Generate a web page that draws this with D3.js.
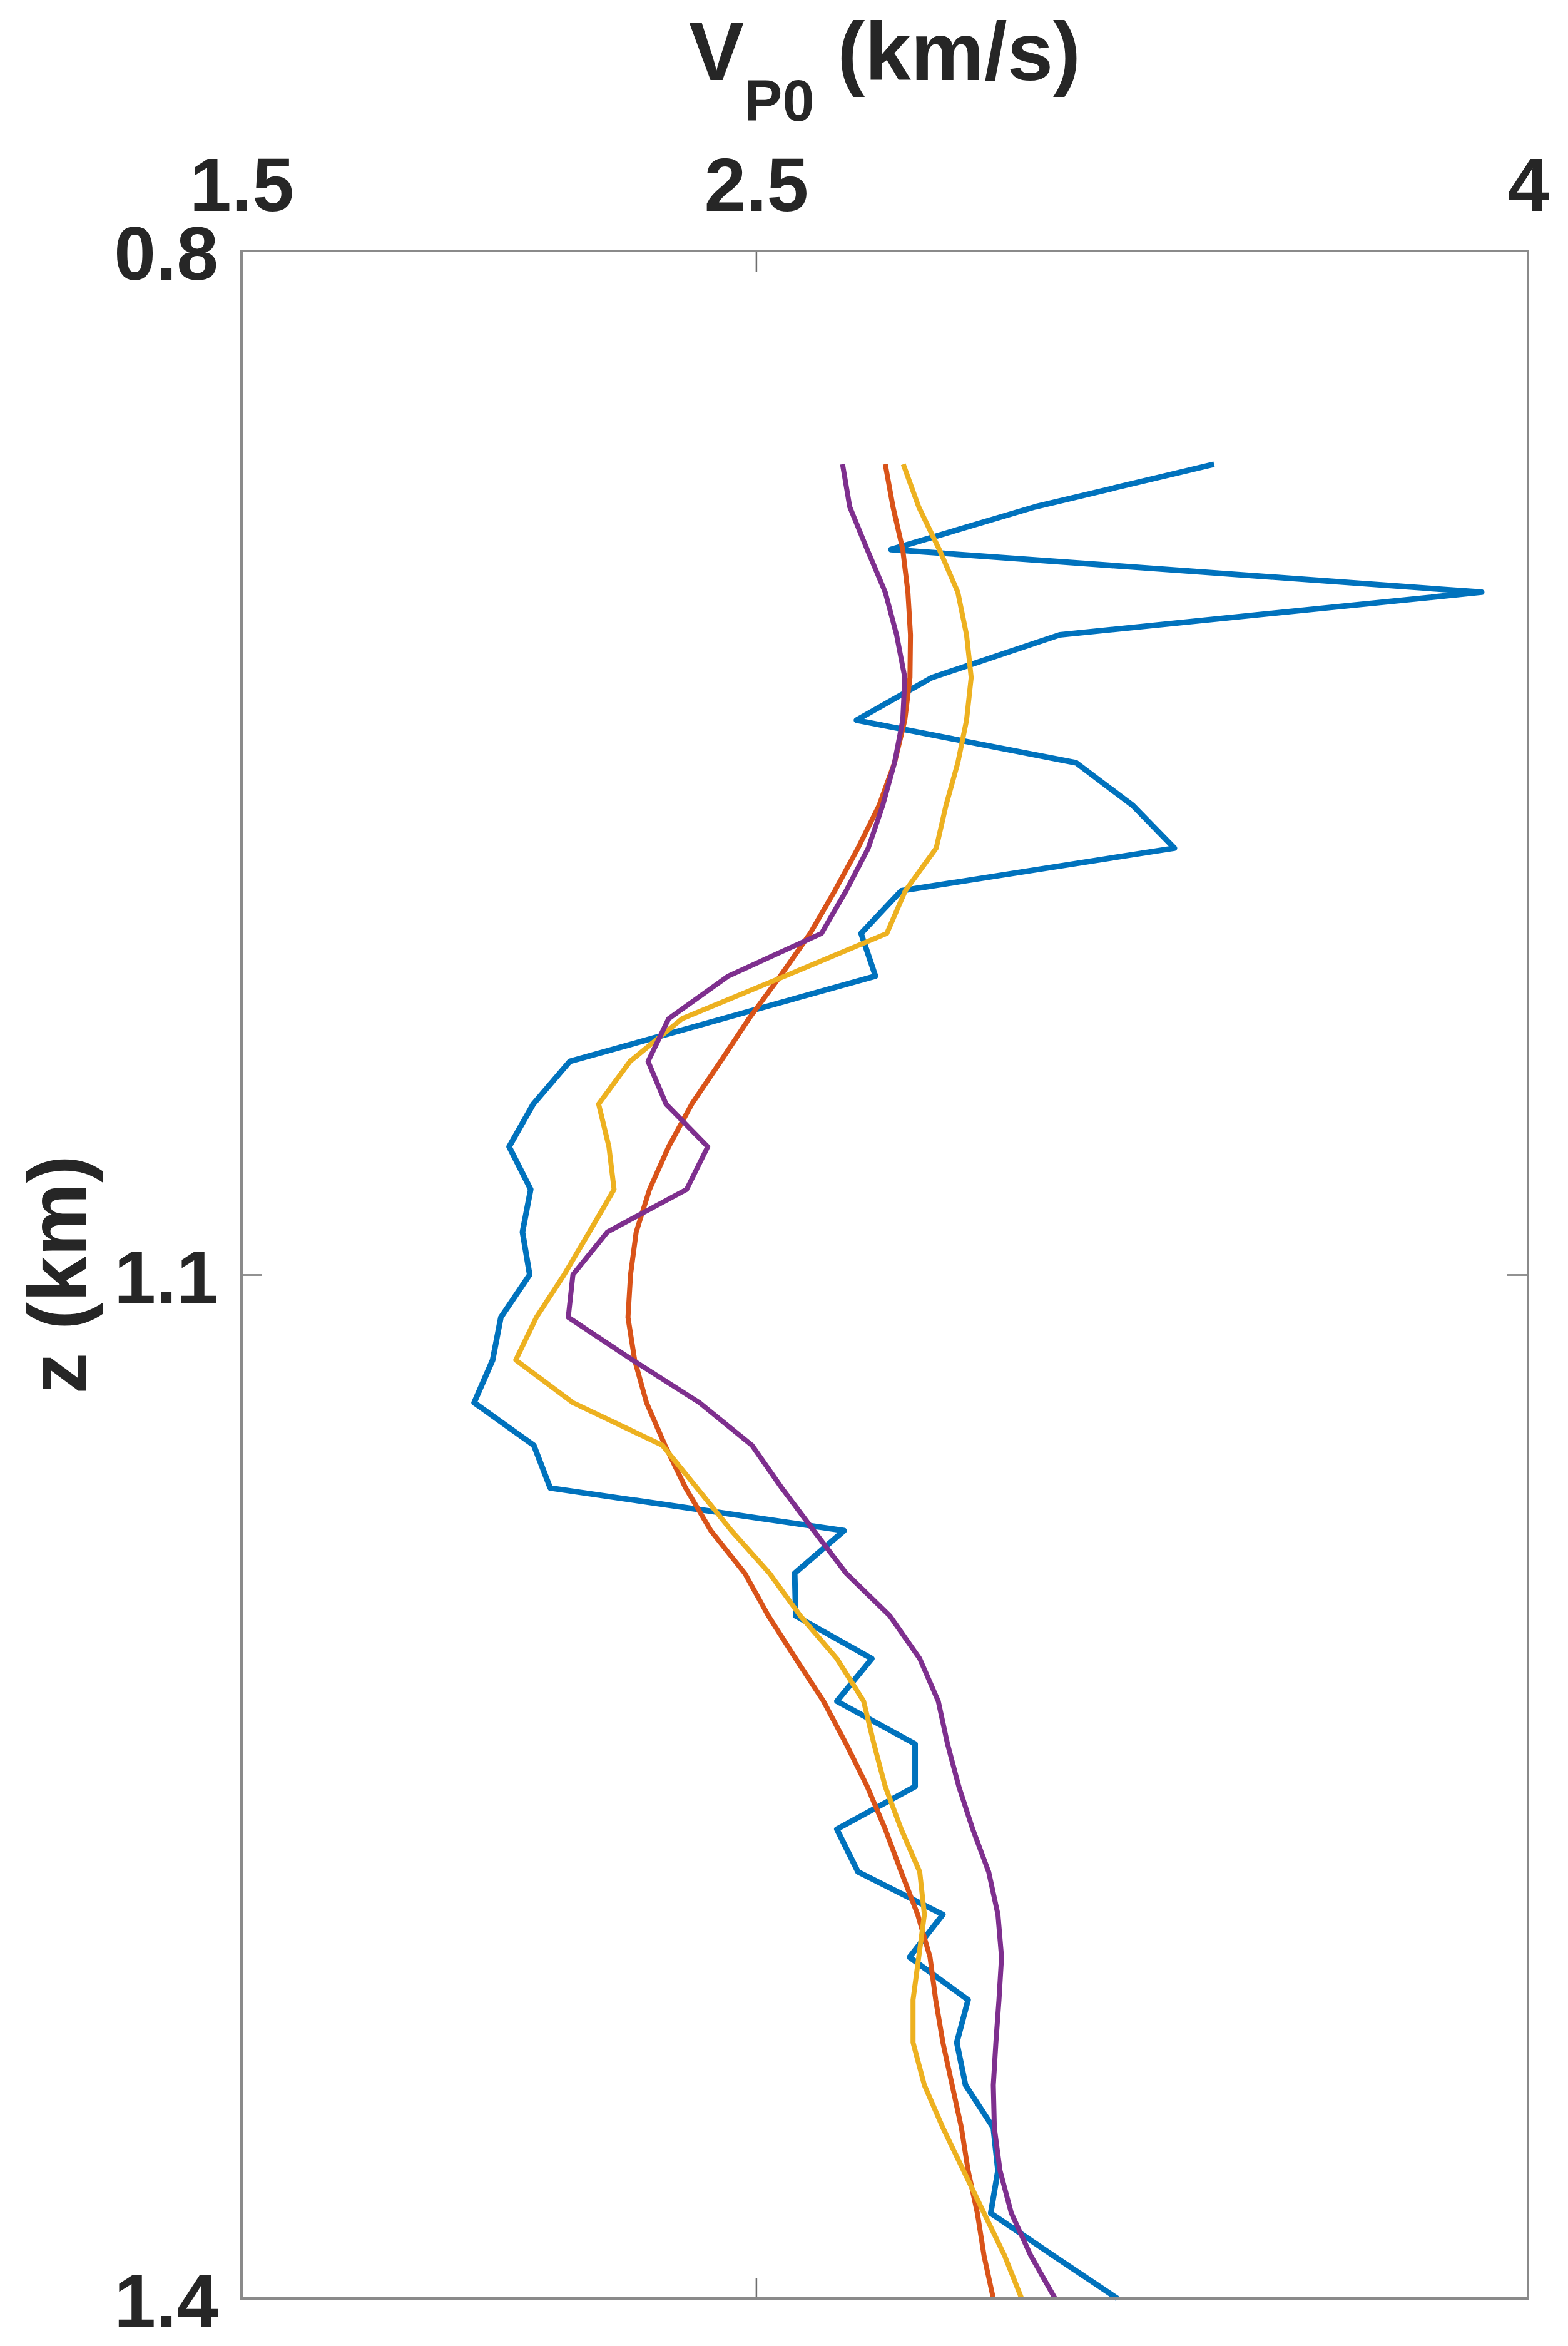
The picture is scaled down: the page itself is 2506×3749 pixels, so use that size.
<!DOCTYPE html>
<html>
<head>
<meta charset="utf-8">
<script src="https://cdn.jsdelivr.net/npm/d3@7"></script>
<style>
  html, body { margin: 0; padding: 0; background: #fff; }
  svg { display: block; }
  text { font-family: "Liberation Sans", Arial, Helvetica, sans-serif; font-weight: bold; fill: #262626; }
</style>
</head>
<body>
<svg id="chart" width="2506" height="3749"></svg>
<script>
// Depth samples (km)
const depth = [0.8625,0.875,0.8875,0.9,0.9125,0.925,0.9375,0.95,0.9625,0.975,0.9875,1.0,1.0125,1.025,1.0375,1.05,1.0625,1.075,1.0875,1.1,1.1125,1.125,1.1375,1.15,1.1625,1.175,1.1875,1.2,1.2125,1.225,1.2375,1.25,1.2625,1.275,1.2875,1.3,1.3125,1.325,1.3375,1.35,1.3625,1.375,1.3875,1.4];

// VP0 profiles (km/s)
const vpBlue = [3.390,3.042,2.762,3.910,3.090,2.842,2.695,3.122,3.232,3.313,2.782,2.704,2.732,2.435,2.138,2.067,2.020,2.062,2.046,2.060,2.004,1.988,1.952,2.068,2.100,2.671,2.575,2.577,2.725,2.657,2.809,2.809,2.657,2.698,2.863,2.798,2.912,2.890,2.907,2.961,2.970,2.956,3.078,3.202];
const vpOrange = [2.751,2.766,2.785,2.795,2.800,2.799,2.789,2.769,2.739,2.698,2.653,2.605,2.547,2.486,2.431,2.375,2.330,2.293,2.267,2.256,2.251,2.264,2.287,2.323,2.363,2.412,2.478,2.524,2.577,2.631,2.675,2.716,2.751,2.782,2.814,2.838,2.849,2.863,2.881,2.899,2.912,2.930,2.943,2.961];
const vpYellow = [2.786,2.816,2.856,2.892,2.909,2.918,2.909,2.892,2.869,2.850,2.790,2.754,2.556,2.356,2.255,2.194,2.214,2.224,2.176,2.127,2.073,2.033,2.144,2.318,2.385,2.452,2.526,2.586,2.657,2.709,2.729,2.751,2.782,2.818,2.827,2.816,2.805,2.805,2.827,2.863,2.903,2.943,2.983,3.016];
const vpPurple = [2.668,2.682,2.716,2.751,2.773,2.789,2.785,2.769,2.746,2.718,2.675,2.627,2.446,2.330,2.290,2.325,2.406,2.365,2.211,2.144,2.135,2.260,2.390,2.492,2.550,2.612,2.675,2.760,2.818,2.854,2.872,2.894,2.921,2.952,2.970,2.977,2.972,2.966,2.961,2.963,2.974,2.996,3.034,3.081];

const xTicks = [1.5, 2.5, 4];
const yTicks = [0.8, 1.1, 1.4];
const xLabelTop = "V";
const xLabelSub = "P0";
const xLabelRest = " (km/s)";
const yLabel = "z (km)";

const series = [
  { name: "blue", values: vpBlue, color: "#0072BD", width: 9 },
  { name: "orange", values: vpOrange, color: "#D95319", width: 8 },
  { name: "yellow", values: vpYellow, color: "#EDB120", width: 8 },
  { name: "purple", values: vpPurple, color: "#7E2F8E", width: 8 }
];

const L = 386, R = 2442, T = 401, B = 3673;
const x = d3.scaleLinear().domain([1.5, 4]).range([L, R]);
const y = d3.scaleLinear().domain([0.8, 1.4]).range([T, B]);

const svg = d3.select("#chart");
svg.append("rect").attr("width", 2506).attr("height", 3749).attr("fill", "#fff");

const tickLen = 33;
const tickColor = "#6e6e6e";

// top axis (labels)
const gTop = svg.append("g").attr("transform", `translate(0,${T})`)
  .call(d3.axisTop(x).tickValues(xTicks).tickFormat(d3.format("")).tickSizeInner(-tickLen).tickSizeOuter(0).tickPadding(64));
// bottom axis (ticks only)
const gBot = svg.append("g").attr("transform", `translate(0,${B})`)
  .call(d3.axisBottom(x).tickValues(xTicks).tickFormat("").tickSizeInner(-tickLen).tickSizeOuter(0));
// left axis (labels)
const gLeft = svg.append("g").attr("transform", `translate(${L},0)`)
  .call(d3.axisLeft(y).tickValues(yTicks).tickFormat(d3.format("")).tickSizeInner(-tickLen).tickSizeOuter(0).tickPadding(37));
// right axis (ticks only)
const gRight = svg.append("g").attr("transform", `translate(${R},0)`)
  .call(d3.axisRight(y).tickValues(yTicks).tickFormat("").tickSizeInner(-tickLen).tickSizeOuter(0));

[gTop, gBot, gLeft, gRight].forEach(g => {
  g.select(".domain").remove();
  g.selectAll(".tick line").attr("stroke", tickColor).attr("stroke-width", 2.5);
  g.selectAll(".tick text").attr("fill", "#262626").attr("font-size", 120)
    .attr("font-family", '"Liberation Sans", Arial, Helvetica, sans-serif').attr("font-weight", "bold");
});
gTop.selectAll(".tick text").attr("dy", "0em");
gLeft.selectAll(".tick text").attr("dy", "0.375em");

// lines
const line = d3.line()
  .x(d => x(d.v))
  .y(d => y(d.z));

const gLines = svg.append("g");
series.forEach(s => {
  const pts = depth.map((z, i) => ({ z: z, v: s.values[i] }));
  gLines.append("path")
    .datum(pts)
    .attr("d", line)
    .attr("fill", "none")
    .attr("stroke", s.color)
    .attr("stroke-width", s.width)
    .attr("stroke-linejoin", "round")
    .attr("stroke-linecap", "butt");
});

// box
svg.append("rect")
  .attr("x", L).attr("y", T).attr("width", R - L).attr("height", B - T)
  .attr("fill", "none").attr("stroke", "#8a8a8a").attr("stroke-width", 4);

// x label (top)
const xl = svg.append("text")
  .attr("x", (L + R) / 2).attr("y", 128)
  .attr("text-anchor", "middle")
  .attr("font-size", 132);
xl.append("tspan").text(xLabelTop);
xl.append("tspan").attr("font-size", 92).attr("dy", 65).text(xLabelSub);
xl.append("tspan").attr("dy", -65).text(xLabelRest);

// y label
svg.append("text")
  .attr("transform", `translate(138,${(T + B) / 2}) rotate(-90)`)
  .attr("text-anchor", "middle")
  .attr("font-size", 132)
  .text(yLabel);
</script>
</body>
</html>
